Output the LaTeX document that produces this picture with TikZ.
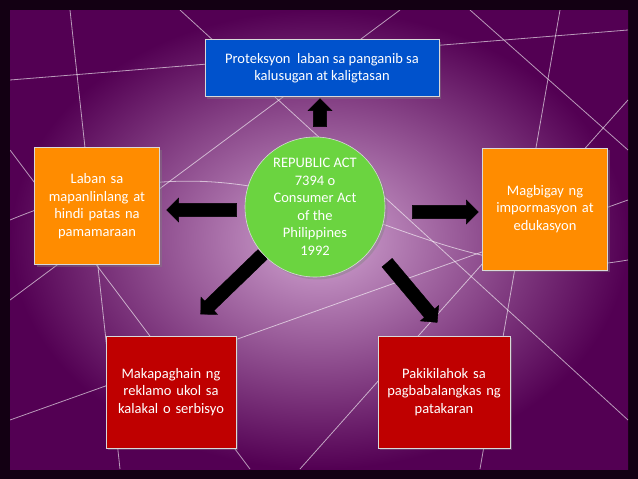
\documentclass[tikz,border=0pt]{standalone}
\usepackage{fontspec}
\setmainfont{Carlito}
\usetikzlibrary{shapes.arrows,shadows}
\begin{document}
\begin{tikzpicture}[x=1pt,y=-1pt,
  box/.style={draw=white!70!gray,line width=0.6pt,align=center,text=white,font=\fontsize{14.5}{17.5}\selectfont,inner sep=2pt,drop shadow={opacity=0.4}},
  barrow/.style={single arrow,fill=black,draw=black,minimum height=#1,minimum width=24pt,single arrow head extend=5pt,single arrow tip angle=90,inner xsep=0pt,inner ysep=6pt}]
\useasboundingbox (0,0) rectangle (638,479);
\fill[black!85!violet] (0,0) rectangle (638,479);
\shade[inner color=violet!35!white,outer color=violet!65!black] (10,10) rectangle (628,469);
\begin{scope}[white,opacity=0.6,line width=0.8pt]
\clip (10,10) rectangle (628,469);
\draw (10,80) -- (628,30); \draw (10,300) -- (400,10); \draw (180,10) -- (628,420);
\draw (10,420) -- (628,200); \draw (470,10) -- (628,150); \draw (300,469) -- (628,100);
\draw (10,150) -- (250,469); \draw (560,10) -- (480,469); \draw (70,10) -- (120,469);
\draw (10,220) .. controls (300,100) and (400,300) .. (628,260);
\end{scope}
\node[box,fill=blue!60!cyan!80!black,minimum width=234pt,minimum height=57pt] (top) at (322,68) {Proteksyon\ \ laban sa panganib sa\\kalusugan at kaligtasan};
\node[circle,box,fill=green!55!olive!75!white,minimum size=140pt,inner sep=0pt] (c) at (315,207) {REPUBLIC ACT\\7394 o\\Consumer Act\\of the\\Philippines\\1992};
\node[box,fill=orange!90!yellow,minimum width=125pt,minimum height=117pt,text width=120pt] (l) at (97,206) {Laban sa\\mapanlinlang at\\hindi patas na\\pamamaraan};
\node[box,fill=orange!90!yellow,minimum width=125pt,minimum height=122pt,text width=120pt] (r) at (545,209) {Magbigay ng\\impormasyon at\\edukasyon};
\node[box,fill=red!75!black,minimum width=130pt,minimum height=112pt,text width=126pt] (bl) at (171,392) {Makapaghain ng\\reklamo ukol sa\\kalakal o serbisyo};
\node[box,fill=red!75!black,minimum width=132pt,minimum height=112pt,text width=128pt] (br) at (444,392) {Pakikilahok sa\\pagbabalangkas ng\\patakaran};
\node[barrow=28pt,rotate=90] (au) at (320,116) {};
\node[barrow=70pt,rotate=180] (al) at (205,210) {};
\node[barrow=66pt] (ar) at (442,212) {};
\node[barrow=86pt,rotate=-136] (adl) at (234,282) {};
\node[barrow=78pt,rotate=-50] (adr) at (410,290) {};
\end{tikzpicture}
\end{document}
